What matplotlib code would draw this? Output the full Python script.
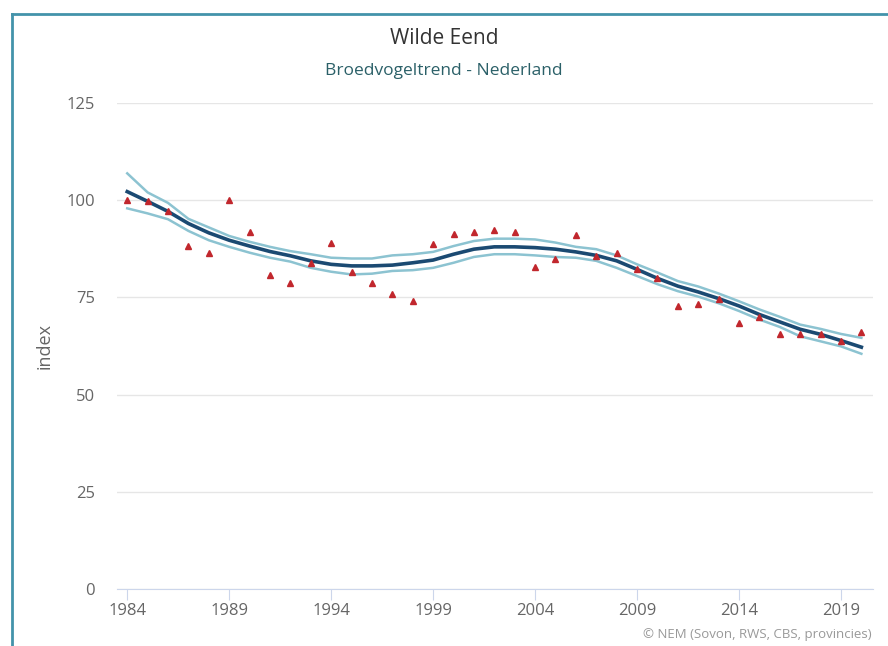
import numpy as np
import matplotlib
matplotlib.use("Agg")
import matplotlib.pyplot as plt
from matplotlib.lines import Line2D

plt.rcParams['font.family'] = ['Open Sans', 'DejaVu Sans']

years = list(range(1984, 2021))
# yearly index (red triangles)
index_vals = [100, 99.7, 97.1, 88.2, 86.5, 100, 91.9, 80.8, 78.7, 83.9,
              88.9, 81.5, 78.6, 75.8, 74.2, 88.7, 91.4, 91.8, 92.3, 91.8,
              82.8, 84.8, 91.0, 85.7, 86.3, 82.4, 79.9, 72.9, 73.4, 74.5,
              68.5, 70.0, 65.5, 65.6, 65.6, 63.9, 66.1]
# smoothed trend
trend = [102.2, 99.7, 97.1, 94.0, 91.6, 89.7, 88.2, 86.8, 85.7, 84.4,
         83.5, 83.1, 83.1, 83.3, 83.9, 84.6, 86.1, 87.4, 88.0, 88.0,
         87.8, 87.4, 86.7, 85.8, 84.4, 82.2, 79.9, 77.9, 76.4, 74.7,
         72.8, 70.6, 68.7, 66.8, 65.5, 63.9, 62.2]
# confidence band
upper = [106.9, 102.0, 99.3, 95.2, 93.0, 90.8, 89.3, 88.0, 86.9, 86.1,
         85.2, 85.0, 85.0, 85.8, 86.1, 86.7, 88.2, 89.5, 90.1, 90.1,
         89.9, 89.1, 88.0, 87.4, 85.8, 83.5, 81.4, 79.2, 77.8, 76.0,
         74.0, 71.9, 70.0, 68.0, 66.9, 65.6, 64.6]
lower = [97.9, 96.6, 95.1, 92.1, 89.7, 88.0, 86.5, 85.2, 84.2, 82.6,
         81.6, 80.9, 81.1, 81.8, 82.0, 82.6, 83.9, 85.4, 86.1, 86.1,
         85.8, 85.4, 85.2, 84.4, 82.6, 80.5, 78.4, 76.6, 75.2, 73.5,
         71.5, 69.3, 67.4, 65.0, 63.7, 62.4, 60.5]

xticks = [1984, 1989, 1994, 1999, 2004, 2009, 2014, 2019]
yticks = [0, 25, 50, 75, 100, 125]

fig = plt.figure(figsize=(8.88, 6.46), dpi=100)
ax = fig.add_axes([0.1318, 0.0882, 0.8513, 0.7524])

ax.plot(years, upper, color='#8cc3d1', lw=1.8, zorder=2)
ax.plot(years, lower, color='#8cc3d1', lw=1.8, zorder=2)
ax.plot(years, trend, color='#1b4a72', lw=2.6, zorder=3)
ax.plot(years, index_vals, linestyle='none', marker='^', markersize=4.5,
        color='#c1272d', zorder=4)

ax.set_xlim(1983.5, 2020.57)
ax.set_ylim(0, 125)
ax.set_xticks(xticks)
ax.set_yticks(yticks)
ax.grid(axis='y', color='#e6e6e6', lw=1)
ax.set_axisbelow(True)
for s in ['left', 'right', 'top']:
    ax.spines[s].set_visible(False)
ax.spines['bottom'].set_color('#ccd6eb')
ax.tick_params(axis='y', length=0, pad=16, labelsize=12, labelcolor='#666666')
ax.tick_params(axis='x', length=8, color='#ccd6eb', labelsize=12,
               labelcolor='#666666', pad=2)
ax.set_ylabel('index', color='#666666', fontsize=13, labelpad=9)

fig.text(0.5, 0.941, 'Wilde Eend', ha='center', va='center',
         fontsize=15, color='#333333')
fig.text(0.5, 0.890, 'Broedvogeltrend - Nederland', ha='center', va='center',
         fontsize=12.5, color='#2b6068')
fig.text(0.982, 0.018, '\u00a9 NEM (Sovon, RWS, CBS, provincies)',
         ha='right', va='center', fontsize=9.5, color='#999999')

# frame lines at top and left
fig.add_artist(Line2D([12 / 888, 1], [1 - 14 / 646, 1 - 14 / 646],
                      color='#4393aa', lw=2))
fig.add_artist(Line2D([12 / 888, 12 / 888], [0, 1 - 14 / 646],
                      color='#4393aa', lw=2))

fig.savefig('out.png', dpi=100)
